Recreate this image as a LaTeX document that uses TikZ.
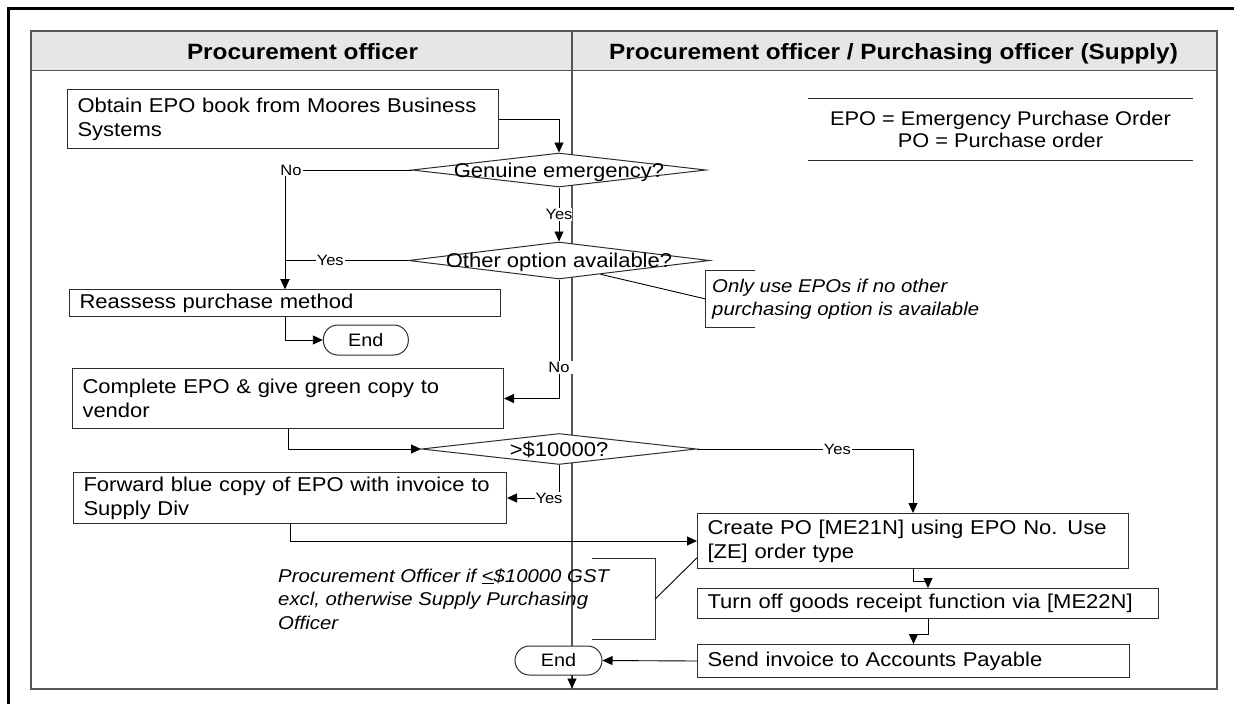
\documentclass[tikz,border=0pt]{standalone}
\usepackage{fontspec}
\setmainfont{Liberation Sans}[FakeStretch=1.1]
\usetikzlibrary{arrows.meta,shapes.geometric,calc}

\definecolor{hdrgray}{RGB}{230,230,230}
\definecolor{lanegray}{RGB}{85,85,85}
\definecolor{boxline}{RGB}{45,45,45}

\tikzset{
  body/.style={font=\fontsize{20}{24}\selectfont},
  hdr/.style={font=\fontsize{22.1}{26}\selectfont\bfseries, anchor=base, inner sep=0pt},
  lane/.style={draw=lanegray, line width=1.3pt},
  stepbox/.style={draw=boxline, line width=1pt, fill=white, anchor=north west,
    inner xsep=10pt, inner ysep=0pt, align=left, body},
  decision/.style={diamond, draw=boxline, line width=1pt, fill=white, inner sep=0pt},
  dtext/.style={body, anchor=base, inner sep=0pt},
  terminal/.style={rectangle, rounded corners=14.5pt, draw=boxline, line width=1pt,
    fill=white, font=\fontsize{18}{21}\selectfont, inner sep=0pt},
  conn/.style={draw=black, line width=0.9pt},
  arr/.style={conn, -{Triangle[length=10pt,width=9pt]}},
  lbl/.style={font=\fontsize{15}{18}\selectfont, fill=white, inner xsep=1pt, inner ysep=1pt},
  note/.style={font=\fontsize{18.5}{23.5}\selectfont\itshape, align=left, inner sep=0pt},
  brace/.style={inner sep=0pt},
  legendbox/.style={font=\fontsize{19.8}{22}\selectfont, align=center, inner sep=0pt},
}

\begin{document}
\begin{tikzpicture}[x=1pt,y=-1pt]
\useasboundingbox (0,0) rectangle (1234,704);

% page frame
\draw[line width=2.7pt] (8.7,704) -- (8.7,8.7) -- (1234,8.7);

% swimlanes
\fill[hdrgray] (31,31) rectangle (1217,70.5);
\draw[lane] (31,31) rectangle (1217,689);
\draw[lane] (31,70.5) -- (1217,70.5);
\draw[lane] (572,31) -- (572,689);
\node[hdr] (hdrA) at (302.5,59) {Procurement officer};
\node[hdr] (hdrB) at (893.5,59) {Procurement officer / Purchasing officer (Supply)};

% abbreviations
\node[legendbox, minimum width=385pt, minimum height=61pt] (legend) at (1000.5,129.5)
  {EPO = Emergency Purchase Order\\PO = Purchase order};
\draw[boxline, line width=1pt] (legend.north west) -- (legend.north east);
\draw[boxline, line width=1pt] (legend.south west) -- (legend.south east);

% process steps
\node[stepbox, text width=411pt, minimum height=59pt] (obtain) at (67,89)
  {Obtain EPO book from Moores Business\\Systems};
\node[decision, minimum width=294pt, minimum height=34pt] (genuine) at (559,170) {};
\node[dtext] (genuineT) at (559,177) {Genuine emergency?};
\node[decision, minimum width=301pt, minimum height=37pt] (other) at (559,260.5) {};
\node[dtext] (otherT) at (559,267.3) {Other option available?};
\node[stepbox, text width=411pt, minimum height=27pt] (reassess) at (69,289)
  {Reassess purchase method};
\node[terminal, minimum width=85pt, minimum height=30pt] (endA) at (365.8,340) {End};
\node[stepbox, text width=411pt, minimum height=60pt] (complete) at (72,368)
  {Complete EPO \& give green copy to\\vendor};
\node[decision, minimum width=275pt, minimum height=31pt] (limit) at (559,449) {};
\node[dtext] (limitT) at (559,456) {>\$10000?};
\node[stepbox, text width=413pt, minimum height=51pt] (forward) at (73,472)
  {Forward blue copy of EPO with invoice to\\Supply Div};
\node[stepbox, text width=411pt, minimum height=55pt] (create) at (697,513)
  {Create PO [ME21N] using EPO No. Use\\{}[ZE] order type};
\node[stepbox, text width=441pt, minimum height=30pt] (turnoff) at (697,588)
  {Turn off goods receipt function via [ME22N]};
\node[stepbox, text width=412pt, minimum height=33pt] (send) at (697,644)
  {Send invoice to Accounts Payable};
\node[terminal, minimum width=87pt, minimum height=29pt] (endB) at (558.5,660.5) {End};
\coordinate (laneEnd) at (572,688.5);

% connectors
\draw[arr] (obtain.east) -| (genuine.north);
\draw[arr] (genuine.west) -| node[lbl, pos=0.5, xshift=6pt] (noA) {No} (reassess.north);
\draw[arr] (genuine.south) -- node[lbl, inner xsep=0pt] (yesA) {Yes} (other.north);
\draw[arr] (other.west) -| node[lbl, pos=0.316] (yesB) {Yes} (reassess.north);
\draw[arr] (reassess.south) |- (endA.west);
\draw[arr] (other.south) |- node[lbl, pos=0.37, inner xsep=3pt] (noB) {No} (complete.east);
\draw[arr] (complete.south) |- (limit.west);
\draw[arr] (limit.east) -| node[lbl, pos=0.325] (yesC) {Yes} (create.north);
\draw[arr] (limit.south) |- node[lbl, pos=0.5, xshift=-10pt] (yesD) {Yes} (forward.east);
\draw[arr] (forward.south) |- (create.west);
\draw[arr] (create.south) -- ++(0,12) -| (turnoff.north);
\draw[arr] (turnoff.south) -- ++(0,15) -| (send.north);
\draw[arr] (send.west) -- (endB.east);
\draw[arr] (endB.south -| laneEnd) -- (laneEnd);

% annotations
\node[note, anchor=west] (noteA) at (712,299)
  {Only use EPOs if no other\\purchasing option is available};
\node[brace, minimum width=49pt, minimum height=56pt] (brkA) at (730.5,299) {};
\draw[boxline, line width=0.9pt] (brkA.north east) -- (brkA.north west) -- (brkA.south west) -- (brkA.south east);
\draw[conn] ($(other.south)!0.275!(other.east)$) -- (brkA.west);

\node[note, anchor=west] (noteB) at (278,599)
  {Procurement Officer if \underline{<}\$10000 GST\\excl, otherwise Supply Purchasing\\Officer};
\node[brace, minimum width=63pt, minimum height=80pt] (brkB) at (623.5,599) {};
\draw[boxline, line width=0.9pt] (brkB.north west) -- (brkB.north east) -- (brkB.south east) -- (brkB.south west);
\draw[conn] (brkB.east) -- ($(create.north west)!0.8!(create.south west)$);
\end{tikzpicture}
\end{document}
